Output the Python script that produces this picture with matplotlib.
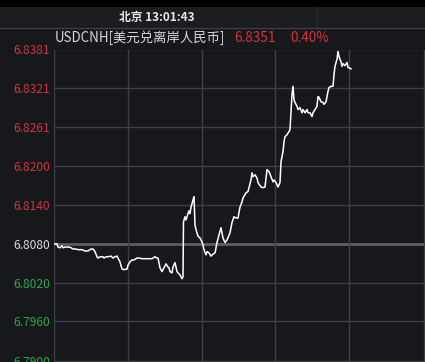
import matplotlib
matplotlib.use('Agg')
import matplotlib.pyplot as plt
from matplotlib.patches import Rectangle
from matplotlib.lines import Line2D

plt.rcParams['font.family'] = ['Noto Sans CJK SC', 'DejaVu Sans']

# time position (minutes-ish from open) and price
t = [0, 3, 4, 6, 8, 9, 11, 13, 15, 17, 19, 22, 24, 28, 31, 34, 37, 39, 41, 43,
     44, 46, 49, 50, 52, 54, 57, 59, 61, 63, 64, 66, 68, 70, 73, 74, 76, 78, 80,
     83, 85, 88, 91, 94, 98, 99, 101, 103, 104, 106, 108, 110, 112, 114, 115, 116,
     118, 119, 121, 123, 124, 126, 128, 129, 129.5, 131, 132, 134, 135, 136, 137,
     138, 139, 140, 141, 142, 143, 144, 146, 148, 149, 150, 152, 153, 155, 157,
     159, 161, 163, 165, 167, 169, 171, 173, 176, 178, 180, 182, 184, 186, 188,
     189, 192, 194, 197, 198, 199, 201, 203, 204, 207, 209, 211, 213, 215, 217,
     219, 220, 222, 224, 226, 227, 229, 230, 231, 233, 235, 236, 237, 238, 239,
     240, 241, 243, 244, 246, 248, 249, 251, 253, 254, 256, 258, 259, 261, 263,
     264, 265, 267, 269, 270, 272, 274, 275, 277, 279, 280, 281, 283, 284, 285,
     287, 288, 289, 291, 293, 294, 295, 297]
price = [6.8080, 6.8080, 6.8075, 6.8074, 6.8077, 6.8074, 6.8075, 6.8075, 6.8075,
         6.8074, 6.8072, 6.8072, 6.8071, 6.8071, 6.8069, 6.8069, 6.8072, 6.8072,
         6.8068, 6.8060, 6.8058, 6.8060, 6.8060, 6.8058, 6.8060, 6.8060, 6.8061,
         6.8058, 6.8060, 6.8061, 6.8058, 6.8052, 6.8041, 6.8040, 6.8041, 6.8047,
         6.8052, 6.8055, 6.8055, 6.8058, 6.8058, 6.8057, 6.8057, 6.8057, 6.8057,
         6.8058, 6.8060, 6.8058, 6.8058, 6.8043, 6.8037, 6.8043, 6.8049, 6.8044,
         6.8043, 6.8037, 6.8035, 6.8044, 6.8051, 6.8037, 6.8035, 6.8032, 6.8026,
         6.8029, 6.8114, 6.8122, 6.8117, 6.8127, 6.8131, 6.8127, 6.8137, 6.8142,
         6.8148, 6.8153, 6.8109, 6.8102, 6.8097, 6.8092, 6.8089, 6.8083, 6.8078,
         6.8071, 6.8063, 6.8068, 6.8066, 6.8061, 6.8064, 6.8066, 6.8082, 6.8094,
         6.8105, 6.8089, 6.8082, 6.8086, 6.8097, 6.8113, 6.8122, 6.8120, 6.8120,
         6.8137, 6.8145, 6.8151, 6.8159, 6.8161, 6.8179, 6.8190, 6.8184, 6.8187,
         6.8182, 6.8175, 6.8168, 6.8167, 6.8168, 6.8195, 6.8192, 6.8184, 6.8176,
         6.8179, 6.8175, 6.8168, 6.8175, 6.8207, 6.8223, 6.8238, 6.8246, 6.8249,
         6.8254, 6.8257, 6.8285, 6.8311, 6.8324, 6.8303, 6.8299, 6.8293, 6.8288,
         6.8291, 6.8283, 6.8288, 6.8283, 6.8288, 6.8283, 6.8283, 6.8277, 6.8283,
         6.8288, 6.8293, 6.8308, 6.8307, 6.8300, 6.8299, 6.8296, 6.8300, 6.8316,
         6.8322, 6.8324, 6.8324, 6.8342, 6.8355, 6.8366, 6.8378, 6.8370, 6.8362,
         6.8355, 6.8359, 6.8356, 6.8361, 6.8353, 6.8353, 6.8351]

prev_close = 6.8080
tick_vals = [6.7899, 6.7960, 6.8020, 6.8080, 6.8140, 6.8200, 6.8261, 6.8321, 6.8381]
tick_labels = ['6.7900', '6.7960', '6.8020', '6.8080', '6.8140', '6.8200',
               '6.8261', '6.8321', '6.8381']
vgrid = [74, 148, 221, 295, 370]

bg = '#16181c'
red = '#d2323f'
green = '#2da64c'
grid_c = '#3e4045'

W, H = 425, 362
fig = plt.figure(figsize=(W / 100, H / 100), dpi=100, facecolor=bg)

# header bands
fig.patches.append(Rectangle((0, 1 - 7 / H), 1, 7 / H, transform=fig.transFigure,
                             facecolor='black', edgecolor='none'))
fig.patches.append(Rectangle((0, 1 - 27 / H), 1, 20 / H, transform=fig.transFigure,
                             facecolor='#1b1d21', edgecolor='none'))
fig.add_artist(Line2D([0, 1], [1 - 27.5 / H] * 2, transform=fig.transFigure,
                      color=grid_c, lw=1))
fig.add_artist(Line2D([317 / W] * 2, [1 - 27 / H, 1 - 7 / H], transform=fig.transFigure,
                      color='#2a2c30', lw=1))
fig.text(157 / W, 1 - 17 / H, '北京 13:01:43', color='#e8e8e8', fontsize=8.5,
         fontweight='bold', ha='center', va='center')

# title line
fig.text(55 / W, 1 - 38 / H, 'USDCNH[美元兑离岸人民币]', color='#d8d8d8',
         fontsize=9.6, ha='left', va='center')
fig.text(234 / W, 1 - 38 / H, '6.8351', color=red, fontsize=9.8, ha='left', va='center')
fig.text(290 / W, 1 - 38 / H, '0.40%', color=red, fontsize=9.8, ha='left', va='center')

ax = fig.add_axes([54 / W, 0, (W - 54) / W, (H - 49.5) / H])
ax.set_facecolor(bg)
ax.set_xlim(0, 371)
ax.set_ylim(6.7897, 6.8381)
for s in ax.spines.values():
    s.set_visible(False)

for v in tick_vals:
    if v == prev_close:
        ax.axhline(v, color='#5c5e62', lw=2, zorder=1)
    else:
        ax.axhline(v, color=grid_c, lw=1, zorder=1)
ax.axvline(0.5, color=grid_c, lw=1, zorder=1)
for xv in vgrid:
    ax.axvline(xv, color=grid_c, lw=1, zorder=1)

ax.plot(t, price, color='white', lw=1.1, zorder=3)

ax.set_xticks([])
ax.set_yticks(tick_vals)
ax.set_yticklabels(tick_labels, fontsize=8.7)
ax.tick_params(axis='y', length=0, pad=3)
for lab, v in zip(ax.get_yticklabels(), tick_vals):
    if v > prev_close:
        lab.set_color(red)
    elif v < prev_close:
        lab.set_color(green)
    else:
        lab.set_color('#d8d8d8')

fig.savefig('out.png', dpi=100, facecolor=bg)
